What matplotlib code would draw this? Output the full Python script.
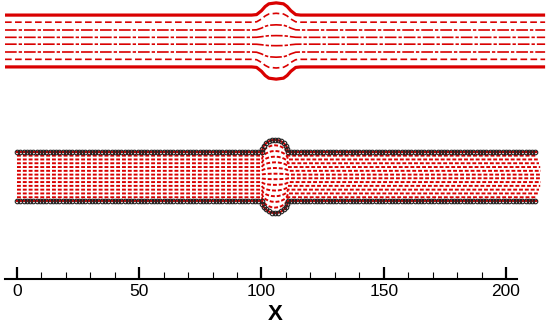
import numpy as np
import matplotlib
matplotlib.use("Agg")
import matplotlib.pyplot as plt

plt.rcParams['font.family'] = ['Liberation Sans', 'DejaVu Sans']

RED = "#d90000"

# ---- upper panel: channel with a bump (continuous lines) ----
top_x = [-4.9, 96.0, 98.0, 100.0, 101.5, 103.0, 106.0, 109.0, 110.5, 112.0, 114.0, 116.0, 216.0]
top_bump = [0.0, 0.0, 0.2, 1.8, 3.5, 4.6, 5.0, 4.6, 3.5, 1.8, 0.2, 0.0, 0.0]
top_wall = 10.6
top_lines = [7.7, 4.5, 1.5, -1.3, -4.5, -7.5]
top_center = 0.0

# ---- lower panel: particles along the walls and flow lines ----
low_center = -55.4
low_wall = 10.0
arch_x = [100.2, 100.4, 100.9, 101.8, 102.9, 104.1, 105.5, 106.9, 108.1, 109.2, 110.1, 110.6, 110.8]
arch_h = [0.0, 1.3, 2.5, 3.5, 4.3, 4.8, 5.0, 4.8, 4.3, 3.5, 2.5, 1.3, 0.0]
low_lines = [8.5, 6.95, 5.4, 3.85, 2.3, 0.75, -0.75, -2.3, -3.85, -5.4, -6.95, -8.5]
low_ends = [212.5, 213.0, 213.5, 214.0, 214.3, 214.5, 214.5, 214.3, 214.0, 213.5, 213.0, 212.5]
wall_end = 212.0

fig = plt.figure(figsize=(5.5, 3.24), dpi=100)
ax = fig.add_axes([0, 0, 1, 1])

# upper walls
tx = np.array(top_x)
tb = np.array(top_bump)
ax.plot(tx, top_center + top_wall + tb, color=RED, lw=2.3, solid_capstyle='butt')
ax.plot(tx, top_center - top_wall - tb, color=RED, lw=2.3, solid_capstyle='butt')
for i, y0 in enumerate(top_lines):
    y = top_center + y0 * (top_wall + tb) / top_wall
    if i in (0, len(top_lines) - 1):
        ls = (0, (4, 2))
    else:
        ls = (0, (7, 1.2, 2, 1.2))
    ax.plot(tx, y, color=RED, lw=1.2, ls=ls)

# lower flow lines
lx_prof = np.array([0.0] + arch_x + [214.5])
lh_prof = np.array([0.0] + arch_h + [0.0])
for y0, xe in zip(low_lines, low_ends):
    xs = lx_prof.copy()
    xs[-1] = xe
    y = low_center + y0 * (low_wall + lh_prof) / low_wall
    ax.plot(xs, y, color=RED, lw=1.4, ls=(0, (2, 1)))

# lower walls: red line + particles
wx = np.array([0.0, 100.2] + arch_x[1:-1] + [110.8, wall_end + 0.5])
wh = np.array([0.0, 0.0] + arch_h[1:-1] + [0.0, 0.0])
for s in (1, -1):
    ax.plot(wx, low_center + s * (low_wall + wh), color=RED, lw=1.5)

px = np.arange(0, wall_end + 0.01, 4 / 3)
px = px[(px < 100.0) | (px > 111.0)]
for s in (1, -1):
    ax.plot(px, np.full(px.shape, low_center + s * low_wall), ls='none', marker='o',
            ms=3.3, mec='#222222', mfc='none', mew=0.8)
    ax.plot(arch_x, low_center + s * (low_wall + np.array(arch_h)), ls='none', marker='o',
            ms=3.3, mec='#222222', mfc='none', mew=0.8)

# axis
ax.set_xlim(-6.95, 218.0)
ax.set_ylim(-115.75, 16.77)
for sp in ('left', 'right', 'top'):
    ax.spines[sp].set_visible(False)
ax.spines['bottom'].set_position(('data', -97.3))
ax.spines['bottom'].set_bounds(-4.9, 204.5)
ax.spines['bottom'].set_linewidth(1.5)
ax.set_yticks([])
ax.set_xticks([0, 50, 100, 150, 200])
ax.set_xticks(np.arange(0, 201, 10), minor=True)
ax.tick_params(axis='x', which='major', direction='in', length=9, width=1.6, labelsize=12.5, pad=4)
ax.tick_params(axis='x', which='minor', direction='in', length=5, width=0.8)
ax.set_xlabel('X', fontsize=16, fontweight='bold', labelpad=3)

fig.savefig("out.png", dpi=100)
